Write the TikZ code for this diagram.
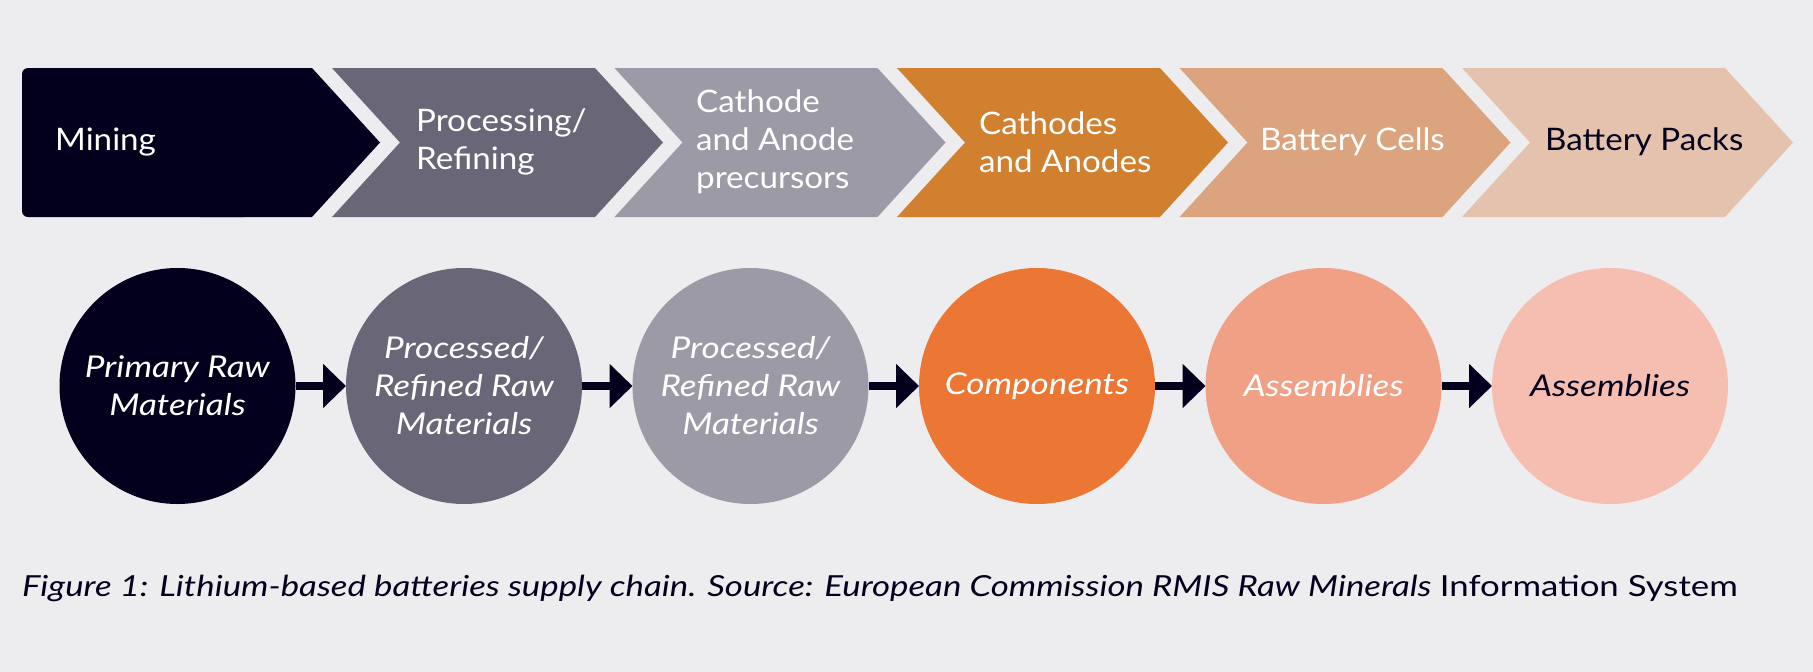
\documentclass[tikz,border=0pt]{standalone}
\usepackage{fontspec}
\setmainfont{Lato}[FakeStretch=1.07]
\newfontfamily\itemfont{Lato}[FakeStretch=1.17]
\newfontfamily\capfont{Lato}[FakeStretch=1.2]
\usetikzlibrary{arrows.meta}
\definecolor{bg}{HTML}{EDEDEF}
\definecolor{navy}{HTML}{03001E}
\definecolor{grayA}{HTML}{686677}
\definecolor{grayB}{HTML}{9C9AA6}
\definecolor{ochre}{HTML}{D1802F}
\definecolor{tan}{HTML}{DBA47E}
\definecolor{peach}{HTML}{E5C2AD}
\definecolor{orange}{HTML}{EC7634}
\definecolor{salmon}{HTML}{F0A085}
\definecolor{pink}{HTML}{F5BEB0}
\begin{document}
\begin{tikzpicture}[x=1pt,y=-1pt,
	stage/.style={anchor=west,align=left,inner sep=0pt,text=white,font=\fontsize{31}{38}\selectfont},
	item/.style={circle,minimum size=236pt,inner sep=0pt,outer sep=0pt,text=white,align=center,font=\fontsize{30}{38}\selectfont\itemfont\itshape},
	link/.style={line width=8pt,navy,-{Triangle[length=23pt,width=43pt]}}]
	% Background
	\fill[bg] (0,0) rectangle (1813,672);
	\useasboundingbox (0,0) rectangle (1813,672);
	% Chevrons
	\fill[navy] (200,68) -- (312,68) -- (380,142.5) -- (312,217) -- (200,217) -- cycle;
	\fill[navy,rounded corners=6pt] (22,68) rectangle (250,217);
	\foreach \x/\col in {332/grayA,614.5/grayB,897/ochre,1179.5/tan,1462/peach}
		\fill[\col] (\x,68) -- (\x+263,68) -- (\x+331,142.5) -- (\x+263,217) -- (\x,217) -- (\x+68,142.5) -- cycle;
	%Stage labels
	\node[stage] (mining) at (55,142) {Mining};
	\node[stage] (refining) at (416,142) {Processing/\\Refining};
	\node[stage] (precursors) at (696,142) {Cathode\\and Anode\\precursors};
	\node[stage] (cathodes) at (979,142) {Cathodes\\and Anodes};
	\node[stage] (cells) at (1260,142) {Battery Cells};
	\node[stage,text=navy] (packs) at (1545,142) {Battery Packs};
	% Materials
	\node[item,fill=navy] (primary) at (177.5,386) {Primary Raw\\Materials};
	\node[item,fill=grayA] (processed) at (464,386) {Processed/\\Refined Raw\\Materials};
	\node[item,fill=grayB] (refined) at (750.5,386) {Processed/\\Refined Raw\\Materials};
	\node[item,fill=orange] (components) at (1037,386) {Components};
	\node[item,fill=salmon] (assemblies) at (1323.5,386) {Assemblies};
	\node[item,fill=pink,text=navy] (packsets) at (1610,386) {Assemblies};
	% Flow
	\draw[link] (primary) -- (processed);
	\draw[link] (processed) -- (refined);
	\draw[link] (refined) -- (components);
	\draw[link] (components) -- (assemblies);
	\draw[link] (assemblies) -- (packsets);
	%Caption
	\node[anchor=west,inner sep=0pt,text=navy,font=\fontsize{29}{34}\selectfont\capfont] (caption) at (22,588) {\itshape Figure 1: Lithium-based batteries supply chain. Source: European Commission RMIS Raw Minerals\upshape{} Information System};
\end{tikzpicture}
\end{document}
